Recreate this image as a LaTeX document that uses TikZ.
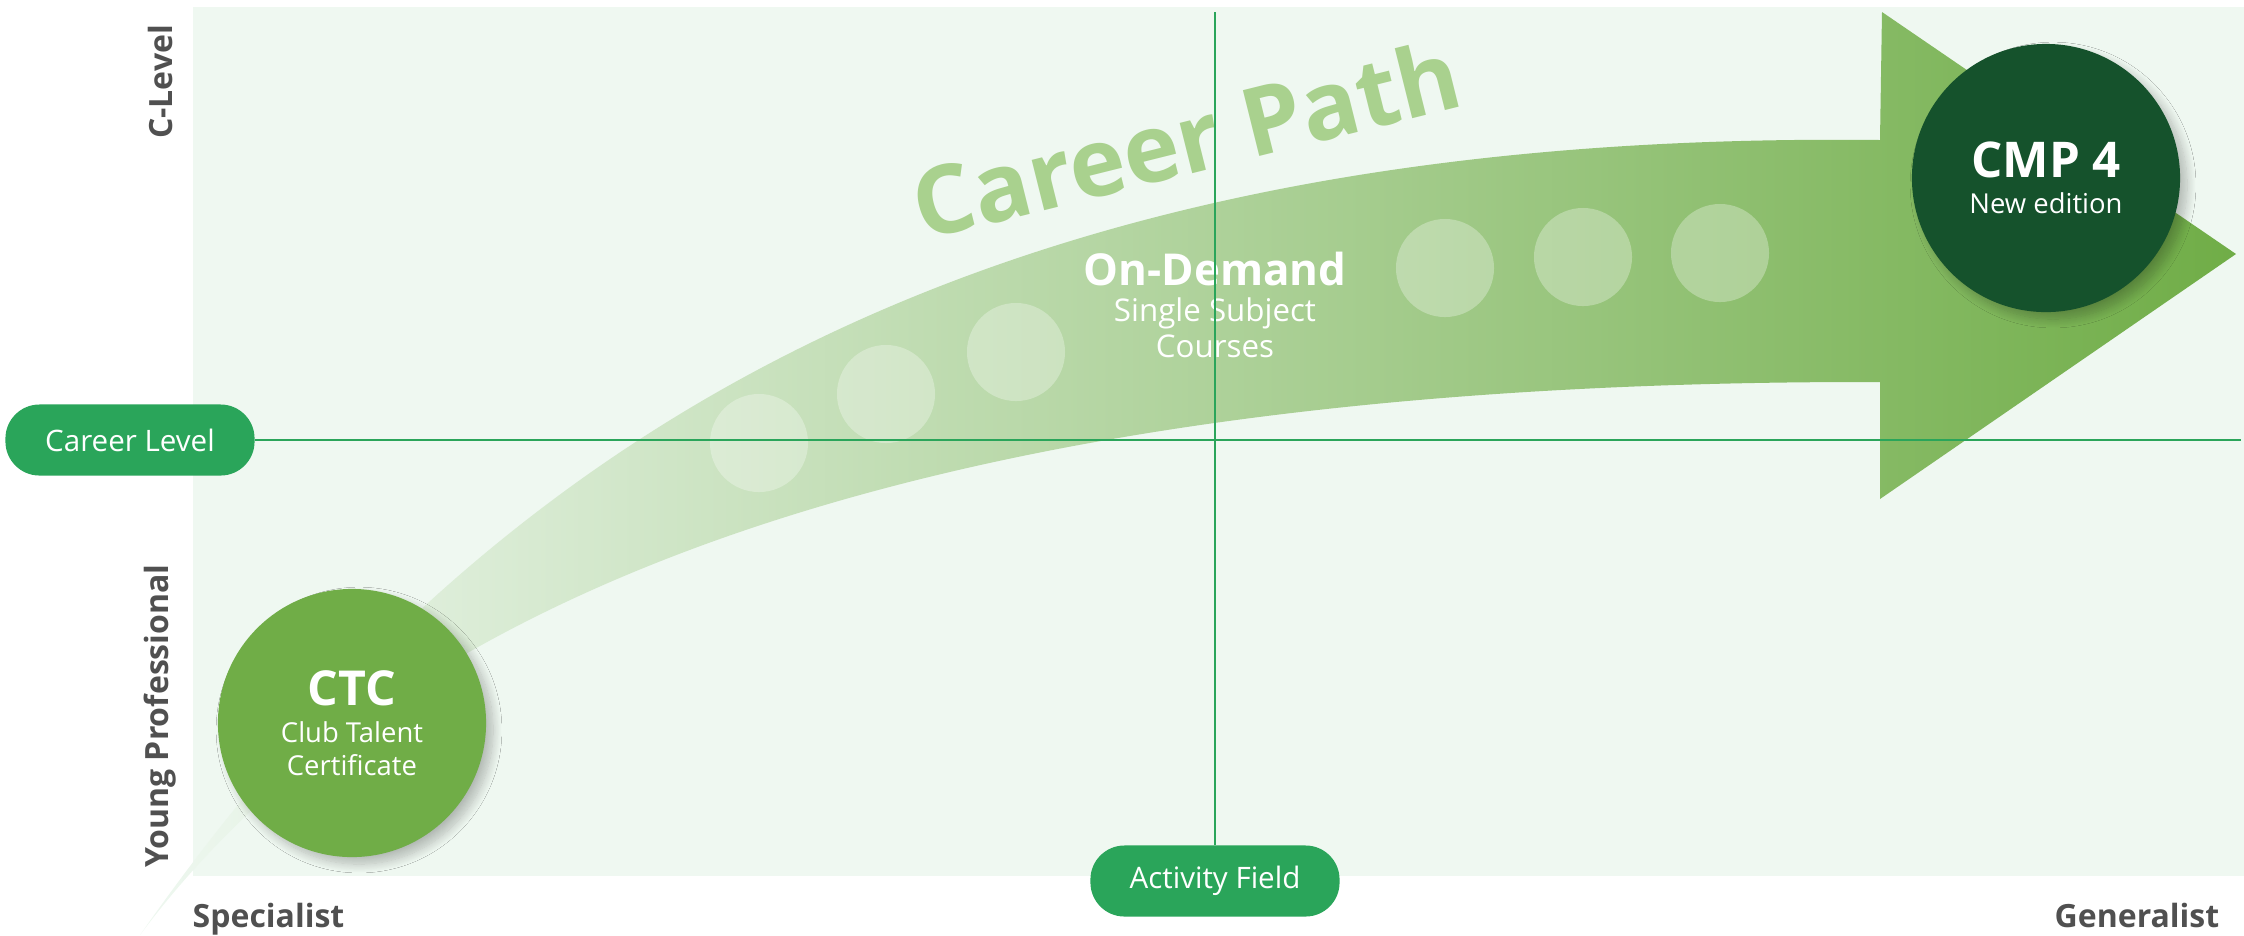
\documentclass[tikz,border=0pt]{standalone}
\usepackage{fontspec}
\setmainfont{Open Sans}
\usetikzlibrary{shadows.blur,positioning}

\definecolor{bgmint}{HTML}{EFF8F1}
\definecolor{pillgreen}{HTML}{2AA55A}
\definecolor{leafgreen}{HTML}{70AD47}
\definecolor{darkgreen}{HTML}{15522C}
\definecolor{axisgray}{HTML}{505050}
\definecolor{pathgreen}{HTML}{A9D18E}

\begin{document}
\begin{tikzpicture}[x=0.01cm, y=-0.01cm,
    pill/.style={fill=pillgreen, text=white, rounded corners=0.34cm,
      minimum width=2.49cm, minimum height=0.71cm, font=\fontsize{8.4}{10}\selectfont},
    axislabel/.style={text=axisgray, inner sep=0pt, font=\fontsize{9.1}{11}\selectfont\bfseries},
    stage/.style={circle, minimum size=2.68cm, inner sep=0pt, text=white, align=center,
      font=\fontsize{7.8}{9.4}\selectfont,
      blur shadow={shadow xshift=2pt, shadow yshift=-2pt, shadow blur radius=2.5pt,
        shadow blur steps=12, shadow opacity=25}},
    dot/.style={circle, fill=white, fill opacity=0.3, minimum size=0.98cm, inner sep=0pt},
    axis/.style={pillgreen, line width=0.6pt}]

  \useasboundingbox (0,0) rectangle (2244,935);
  \fill[bgmint] (193,7) rectangle (2244,876);

  % the big arrow
  \shade[left color=bgmint, right color=leafgreen]
    (140,935) .. controls (500,420) and (1000,130) .. (1880,140)
    -- (1882,12) -- (2236,254) -- (1880,499) -- (1880,382)
    .. controls (1000,380) and (420,560) .. cycle;

  \foreach \x/\y [count=\i] in {759/443, 886/394, 1016/352, 1445/268, 1583/257, 1720/253}
    \node[dot] (dot\i) at (\x,\y) {};

  \node[anchor=base west, rotate=14, inner sep=0pt, text=pathgreen,
    font=\fontsize{27}{30}\selectfont\bfseries] (title) at (922,241) {Career Path};
  \node[align=center, text=white, font=\fontsize{8.9}{10.3}\selectfont] (ondemand) at (1215,305)
    {{\fontsize{12.5}{15}\selectfont\bfseries On-Demand}\\ Single Subject\\ Courses};

  % axes
  \node[pill] (level) at (130,440) {Career Level};
  \node[pill] (field) at (1215,881) {Activity Field};
  \coordinate (levelend) at (2241,440);
  \coordinate (fieldend) at (1215,12);
  \draw[axis] (level) -- (levelend);
  \draw[axis] (field) -- (fieldend);

  \node[axislabel, rotate=90] (clevel) at (160,82) {C-Level};
  \node[axislabel, rotate=90] (young) at (160,716) {Young Professional};
  \node[axislabel, anchor=base west] (spec) at (192,927) {Specialist};
  \node[axislabel, anchor=base east] (gen) at (2220,927) {Generalist};

  % stages
  \node[stage, fill=leafgreen] (ctc) at (352,723)
    {{\fontsize{13.7}{15}\selectfont\bfseries CTC}\\[1pt] Club Talent\\ Certificate};
  \node[stage, fill=darkgreen] (cmp) at (2046,178)
    {{\fontsize{14}{15}\selectfont\bfseries CMP 4}\\[1pt] New edition};
\end{tikzpicture}
\end{document}
